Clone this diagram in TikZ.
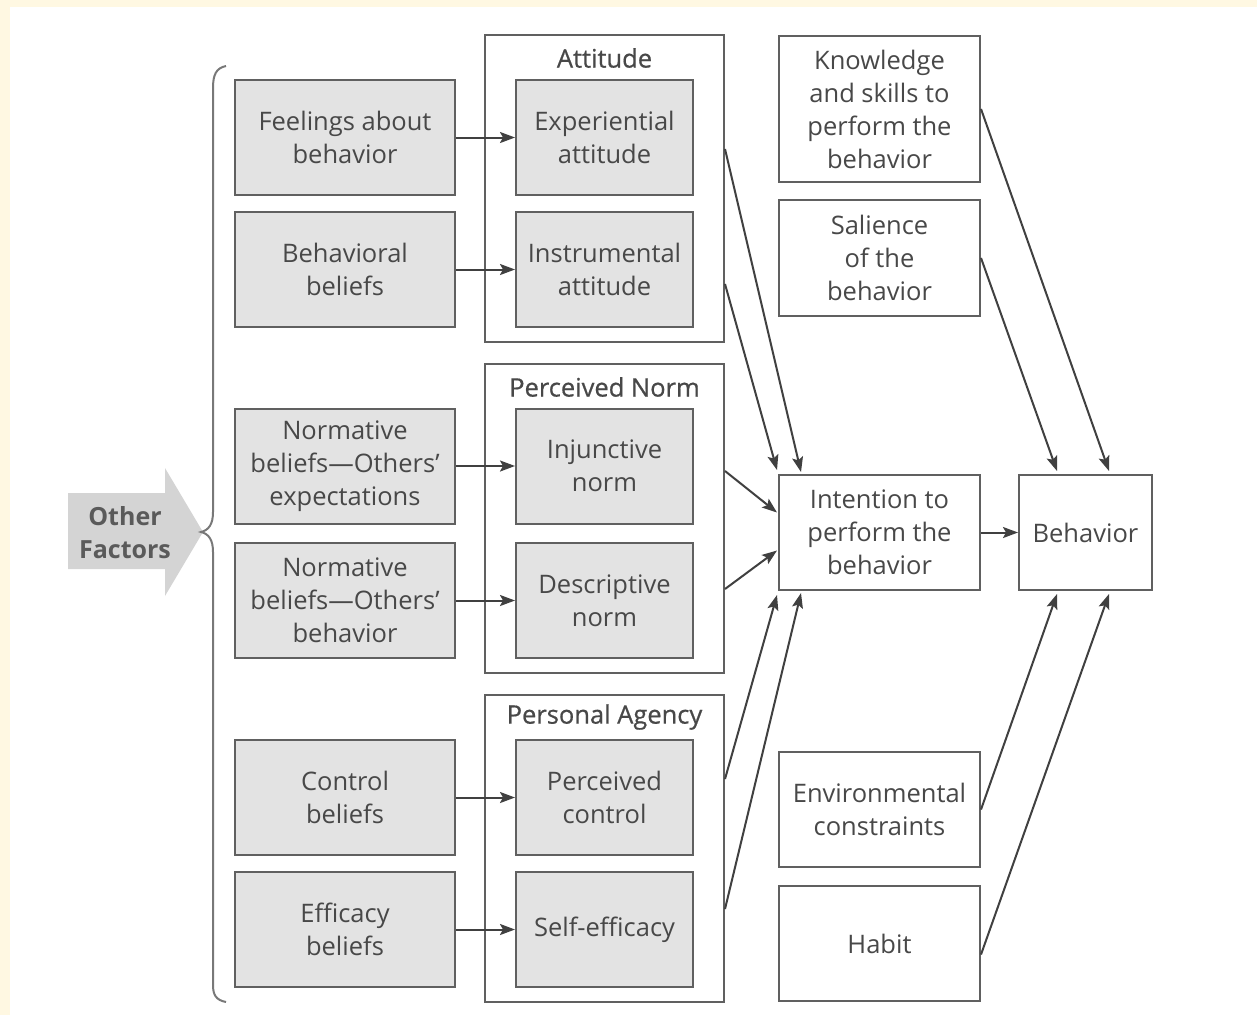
\documentclass[tikz,border=0pt]{standalone}
\usepackage{fontspec}
\setmainfont{Open Sans}
\usetikzlibrary{arrows.meta,calc}
\definecolor{txt}{HTML}{484848}
\definecolor{edge}{HTML}{606060}
\definecolor{boxfill}{HTML}{E3E3E3}
\definecolor{arr}{HTML}{404040}
\definecolor{ofill}{HTML}{D4D4D4}
\definecolor{band}{HTML}{FFF8E2}
\tikzset{
  base/.style={draw=edge, line width=2pt, inner sep=0pt, align=center, text=txt,
    font=\fontsize{25.5}{33}\selectfont},
  graybox/.style={base, fill=boxfill, minimum width=#1, minimum height=115pt},
  whitebox/.style={base, fill=white, minimum width=201pt},
  groupbox/.style={draw=edge, line width=2pt, fill=white, minimum width=239pt, inner sep=0pt},
  grouplabel/.style={text=txt, font=\fontsize{25.5}{28}\selectfont\addfontfeature{FakeBold=0.6}, inner sep=0pt},
  conn/.style={draw=arr, line width=2pt, -{Stealth[length=15pt,width=11pt,inset=3pt]}},
}
\begin{document}
\begin{tikzpicture}[x=1pt,y=-1pt]
\useasboundingbox (0,0) rectangle (1257,1015);
\fill[band] (0,0) rectangle (1257,7);
\fill[band] (0,0) rectangle (10,1015);

% group boxes
\node[groupbox, minimum height=307pt] (att) at (604.5,188.5) {};
\node[groupbox, minimum height=309pt] (nrm) at (604.5,518.5) {};
\node[groupbox, minimum height=307pt] (agc) at (604.5,848.5) {};
\node[grouplabel] (attl) at (604.5,58) {Attitude};
\node[grouplabel] (nrml) at (604.5,387) {Perceived Norm};
\node[grouplabel] (agcl) at (604.5,717) {Personal Agency};

% left column
\node[graybox=220pt] (feel) at (345,137.5) {Feelings about\\behavior};
\node[graybox=220pt] (bb) at (345,269.5) {Behavioral\\beliefs};
\node[graybox=220pt] (nb1) at (345,466) {Normative\\beliefs---Others'\\expectations};
\node[graybox=220pt] (nb2) at (345,600.5) {Normative\\beliefs---Others'\\behavior};
\node[graybox=220pt] (cb) at (345,797.5) {Control\\beliefs};
\node[graybox=220pt] (eb) at (345,929.5) {Efficacy\\beliefs};

% middle column
\node[graybox=177pt] (exp) at (604.5,137.5) {Experiential\\attitude};
\node[graybox=177pt] (ins) at (604.5,269.5) {Instrumental\\attitude};
\node[graybox=177pt] (inj) at (604.5,466) {Injunctive\\norm};
\node[graybox=177pt] (des) at (604.5,600.5) {Descriptive\\norm};
\node[graybox=177pt] (pc) at (604.5,797.5) {Perceived\\control};
\node[graybox=177pt] (se) at (604.5,929.5) {Self-efficacy};

% right column
\node[whitebox, minimum height=146pt] (know) at (879.5,109) {Knowledge\\and skills to\\perform the\\behavior};
\node[whitebox, minimum height=116pt] (sal) at (879.5,258) {Salience\\of the\\behavior};
\node[whitebox, minimum height=115pt] (int) at (879.5,532.5) {Intention to\\perform the\\behavior};
\node[whitebox, minimum height=115pt] (env) at (879.5,809.5) {Environmental\\constraints};
\node[whitebox, minimum height=115pt] (hab) at (879.5,943.5) {Habit};
\node[base, fill=white, minimum width=133pt, minimum height=115pt] (beh) at (1085.5,532.5) {Behavior};

% other factors arrow
\fill[ofill] (68,493) -- (165,493) -- (165,468) -- (203,532) -- (165,596) -- (165,569) -- (68,569) -- cycle;
\node[text=txt!90, align=center, font=\fontsize{25}{33}\selectfont\bfseries] (oth) at (125,533) {Other\\Factors};

% brace
\draw[edge!85, line width=2pt] (226,66) .. controls (216,68) and (213,75) .. (213,88) -- (213,512)
  .. controls (213,524) and (209,530) .. (201,532) .. controls (209,534) and (213,540) .. (213,552)
  -- (213,985) .. controls (213,995) and (216,1000) .. (226,1002);

% horizontal arrows
\draw[conn] (feel.east) -- (exp.west);
\draw[conn] (bb.east) -- (ins.west);
\draw[conn] (nb1.east) -- (inj.west);
\draw[conn] (nb2.east) -- (des.west);
\draw[conn] (cb.east) -- (pc.west);
\draw[conn] (eb.east) -- (se.west);

% into intention
\draw[conn] ($(att.north east)+(0,115)$) -- ($(int.north west)+(23,-2)$);
\draw[conn] ($(att.north east)+(0,250)$) -- ($(int.north west)+(-1,-4)$);
\draw[conn] ($(nrm.north east)+(0,108)$) -- ($(int.west)+(-1,-20)$);
\draw[conn] ($(nrm.north east)+(0,226)$) -- ($(int.west)+(-1,18)$);
\draw[conn] ($(agc.north east)+(0,85)$) -- ($(int.south west)+(-1,4)$);
\draw[conn] ($(agc.north east)+(0,215)$) -- ($(int.south west)+(23,2)$);

% into behavior
\draw[conn] (int.east) -- (beh.west);
\draw[conn] (know.east) -- ($(beh.north west)+(91,-3)$);
\draw[conn] (sal.east) -- ($(beh.north west)+(39,-3)$);
\draw[conn] (env.east) -- ($(beh.south west)+(39,3)$);
\draw[conn] ($(hab.east)+(0,11)$) -- ($(beh.south west)+(91,3)$);
\end{tikzpicture}
\end{document}
